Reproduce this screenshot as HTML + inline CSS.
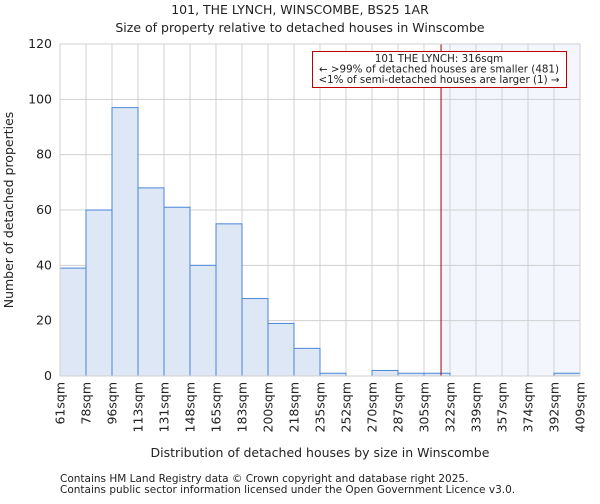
<!DOCTYPE html>
<html><head><meta charset="utf-8"><style>
body{margin:0;background:#fff;font-family:"DejaVu Sans","Liberation Sans",sans-serif;}
svg text{font-family:"DejaVu Sans","Liberation Sans",sans-serif;fill:#222;}
</style></head><body>
<svg id="c" width="600" height="500">
<text x="300" y="14" font-size="12.5" text-anchor="middle">101, THE LYNCH, WINSCOMBE, BS25 1AR</text>
<text x="300" y="32" font-size="12.5" text-anchor="middle">Size of property relative to detached houses in Winscombe</text>
<g id="plot"></g>
<text x="320" y="457" font-size="12.5" text-anchor="middle">Distribution of detached houses by size in Winscombe</text>
<text transform="translate(13,210) rotate(-90)" font-size="12.5" text-anchor="middle">Number of detached properties</text>
<text x="60" y="482" font-size="10.5" fill="#555">Contains HM Land Registry data © Crown copyright and database right 2025.</text>
<text x="60" y="493" font-size="10.5" fill="#555">Contains public sector information licensed under the Open Government Licence v3.0.</text>
</svg>
<script>
const binLabels=["61sqm","78sqm","96sqm","113sqm","131sqm","148sqm","165sqm","183sqm","200sqm","218sqm","235sqm","252sqm","270sqm","287sqm","305sqm","322sqm","339sqm","357sqm","374sqm","392sqm","409sqm"];
const counts=[39,60,97,68,61,40,55,28,19,10,1,0,2,1,1,0,0,0,0,1];
const yTicks=[0,20,40,60,80,100,120];
const xMin=61,xMax=409,marker=316;
const L=60,R=580,T=44,B=376;
const NS="http://www.w3.org/2000/svg";
const g=document.getElementById('plot');
const nb=counts.length;
const xb=i=>L+i*(R-L)/nb;
const xv=v=>L+(v-xMin)/(xMax-xMin)*(R-L);
const y=v=>B-v/120*(B-T);
function mk(t,a){const e=document.createElementNS(NS,t);for(const k in a)e.setAttribute(k,a[k]);g.appendChild(e);return e;}
let e=mk('rect',{x:xv(marker),y:T,width:R-xv(marker),height:B-T,fill:'#f3f6fd'});


for(let i=0;i<=nb;i++){e=mk('line',{x1:xb(i),x2:xb(i),y1:T,y2:B,stroke:'#d0d0d0'});

}
yTicks.forEach(t=>{e=mk('line',{x1:L,x2:R,y1:y(t),y2:y(t),stroke:'#d0d0d0'});


e=mk('text',{x:L-8,y:y(t)+4,'font-size':12.5,'text-anchor':'end'});e.textContent=t;

});
counts.forEach((c,i)=>{if(c<=0)return;e=mk('rect',{x:xb(i),y:y(c),width:xb(i+1)-xb(i),height:B-y(c),fill:'#dde7f5',stroke:'#4a86d8','stroke-width':1});

});
binLabels.forEach((l,i)=>{e=mk('text',{transform:`translate(${xb(i)+4.5},382) rotate(-90)`,'font-size':12.5,'text-anchor':'end'});e.textContent=l;

});
e=mk('line',{x1:xv(marker),x2:xv(marker),y1:T,y2:B,stroke:'#a00000','stroke-width':1});


e=mk('rect',{x:L,y:T,width:R-L,height:B-T,fill:'none',stroke:'#d0d0d0'});


e=mk('rect',{x:312.5,y:51.5,width:254,height:36,fill:'#fff',stroke:'#c00000'});


["101 THE LYNCH: 316sqm","← >99% of detached houses are smaller (481)","<1% of semi-detached houses are larger (1) →"].forEach((s,i)=>{
e=mk('text',{x:439,y:62+i*10.5,'font-size':10.3,'text-anchor':'middle'});e.textContent=s;

});
</script>
</body></html>
